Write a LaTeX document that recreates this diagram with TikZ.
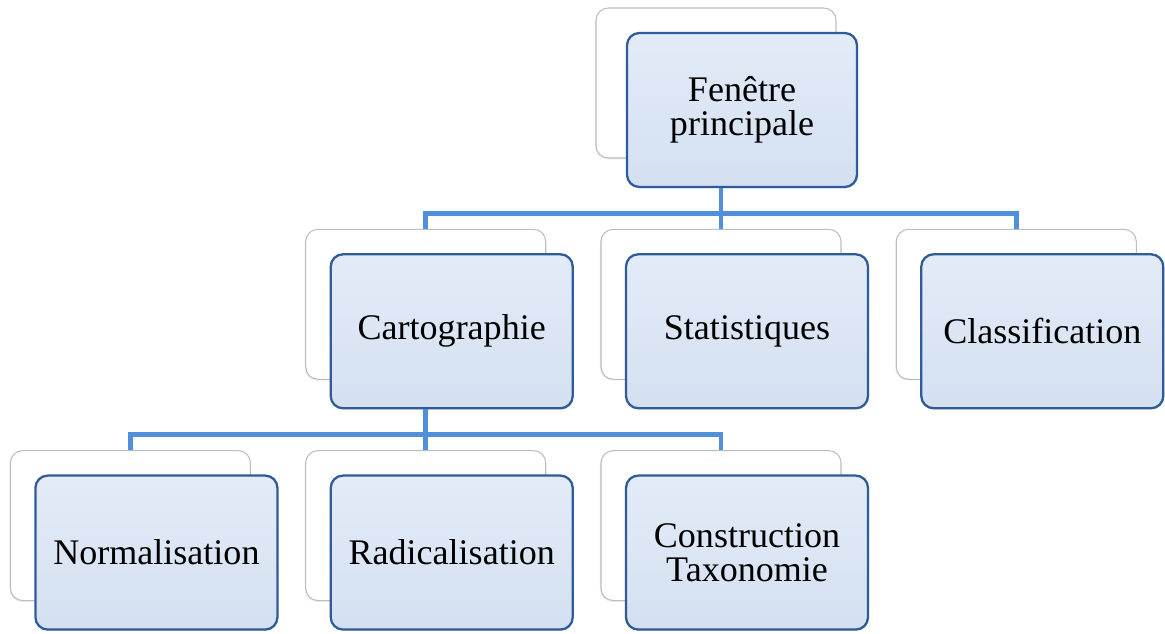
\documentclass[tikz,border=0pt]{standalone}
\usepackage{fontspec}
\setmainfont{Liberation Serif}
\usepackage{tikz}
\usetikzlibrary{positioning, backgrounds, calc, shadows}
\definecolor{cFrame}{HTML}{2F5C98}
\definecolor{cFaceTop}{HTML}{E3EBF7}
\definecolor{cFaceBot}{HTML}{D4E0F1}
\definecolor{cCard}{HTML}{B9BDC4}
\definecolor{cLink}{HTML}{4F8FDC}
\tikzset{
  front/.style={
    rectangle, rounded corners=7pt, draw=cFrame, line width=1.3pt,
    top color=cFaceTop, bottom color=cFaceBot,
    minimum width=4.84cm, minimum height=3.08cm,
    text width=4.5cm, align=center,
    font=\fontsize{20.5}{19.5}\selectfont,
    drop shadow={shadow xshift=0.6pt, shadow yshift=-0.8pt, opacity=0.18}
  },
  back/.style={
    rectangle, rounded corners=7pt, draw=cCard, line width=0.6pt,
    fill=white, minimum width=4.8cm, minimum height=3.0cm,
    drop shadow={shadow xshift=-0.6pt, shadow yshift=-0.8pt, opacity=0.12}
  },
  conn/.style={draw=cLink, line width=2.8pt},
}

\begin{document}
\begin{tikzpicture}[node distance=1.3cm and 1.02cm]
  \useasboundingbox (0,0) rectangle (23.3,-12.68);

  \node[front, minimum width=4.6cm, text width=4.2cm] (main) at (14.84,-2.2) {Fenêtre\\principale};

  \node[front, below=1.3cm of main, xshift=0.1cm] (stats) {Statistiques};
  \node[front, left=of stats] (carto) {Cartographie};
  \node[front, right=of stats] (classif) {Classification};

  \node[front, below=1.3cm of carto] (radical) {Radicalisation};
  \node[front, left=of radical] (norm) {Normalisation};
  \node[front, right=of radical] (constr) {Construction\\Taxonomie};

  % cards behind the boxes
  \begin{scope}[on background layer]
    \foreach \n in {main, carto, stats, classif, norm, radical, constr}
      \node[back] (\n-bk) at ([xshift=-0.52cm, yshift=0.54cm]\n) {};
  \end{scope}

  % links
  \draw[conn] (stats-bk |- main.south) -- (stats-bk.north);
  \draw[conn] (stats-bk |- main.south) -- ++(0,-0.5) coordinate (bus1);
  \draw[conn] (carto-bk.north) |- (bus1) -| (classif-bk.north);

  \draw[conn] (carto-bk |- carto.south) -- (carto-bk |- radical-bk.north);
  \draw[conn] (carto-bk |- carto.south) -- ++(0,-0.5) coordinate (bus2);
  \draw[conn] (norm-bk.north) |- (bus2) -| (constr-bk.north);

\end{tikzpicture}
\end{document}
